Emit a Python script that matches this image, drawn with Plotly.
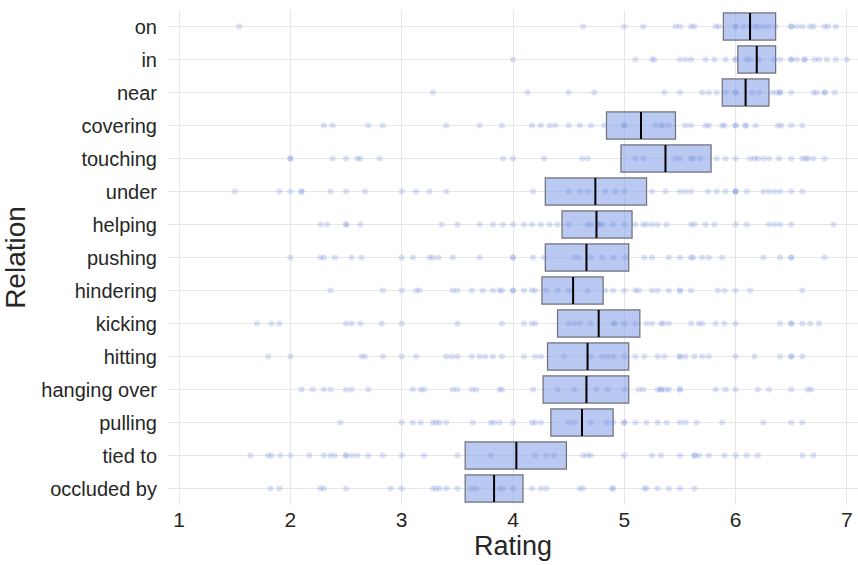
import plotly.graph_objects as go

relations = ["on", "in", "near", "covering", "touching", "under", "helping", "pushing",
             "hindering", "kicking", "hitting", "hanging over", "pulling", "tied to", "occluded by"]

box_low = [5.89, 6.02, 5.88, 4.84, 4.97, 4.29, 4.44, 4.29, 4.26, 4.40, 4.31, 4.27, 4.34, 3.57, 3.57]
box_high = [6.36, 6.36, 6.30, 5.46, 5.78, 5.20, 5.07, 5.04, 4.81, 5.14, 5.04, 5.04, 4.90, 4.48, 4.09]
box_mid = [6.13, 6.19, 6.09, 5.15, 5.37, 4.74, 4.75, 4.66, 4.54, 4.77, 4.67, 4.66, 4.62, 4.03, 3.83]

r_on = [1.54, 4.63, 5.0, 5.17, 5.46, 5.5, 5.6, 5.63, 5.82, 5.85, 6.0, 6.0, 6.07, 6.13, 6.18, 6.2, 6.25,
        6.3, 6.36, 6.5, 6.5, 6.55, 6.6, 6.67, 6.7, 6.8, 6.83, 6.9]
r_in = [4.0, 5.1, 5.25, 5.27, 5.5, 5.55, 5.6, 5.73, 5.81, 5.91, 6.0, 6.0, 6.1, 6.13, 6.21, 6.35, 6.4,
        6.5, 6.5, 6.55, 6.62, 6.62, 6.71, 6.75, 6.82, 6.9, 7.0]
r_near = [3.28, 4.13, 4.5, 4.73, 5.36, 5.5, 5.7, 5.76, 5.83, 5.91, 6.0, 6.0, 6.15, 6.21, 6.33, 6.37,
          6.4, 6.4, 6.5, 6.7, 6.73, 6.8, 6.8, 6.89]
r_covering = [2.3, 2.38, 2.7, 2.83, 3.4, 3.7, 3.9, 4.17, 4.25, 4.33, 4.38, 4.5, 4.6, 4.7, 4.82, 5.0,
              5.0, 5.28, 5.33, 5.35, 5.4, 5.55, 5.6, 5.73, 5.76, 5.88, 5.9, 6.0, 6.0, 6.09, 6.09,
              6.18, 6.38, 6.41, 6.5, 6.6]
r_touching = [2.0, 2.0, 2.38, 2.5, 2.6, 2.63, 2.8, 3.91, 4.0, 4.28, 4.62, 4.67, 5.1, 5.17, 5.46, 5.5,
              5.6, 5.62, 5.68, 5.83, 5.91, 6.0, 6.13, 6.17, 6.2, 6.25, 6.3, 6.39, 6.5, 6.6, 6.63,
              6.65, 6.7, 6.8]
r_under = [1.5, 1.9, 2.0, 2.1, 2.1, 2.36, 2.5, 2.67, 3.0, 3.13, 3.25, 3.4, 4.18, 4.5, 4.6, 4.67, 4.83,
           4.92, 5.0, 5.25, 5.37, 5.5, 5.55, 5.6, 5.75, 5.83, 5.91, 6.0, 6.0, 6.0, 6.1, 6.25, 6.3,
           6.35, 6.4, 6.5, 6.6]
r_helping = [2.27, 2.33, 2.5, 2.5, 2.63, 3.36, 3.5, 3.7, 3.82, 3.91, 4.0, 4.1, 4.17, 4.25, 4.33, 4.4,
             4.5, 4.67, 4.7, 4.77, 4.77, 4.8, 4.9, 5.0, 5.1, 5.17, 5.2, 5.25, 5.3, 5.38, 5.6, 5.63,
             5.73, 5.81, 6.0, 6.1, 6.3, 6.35, 6.4, 6.5, 6.88]
r_pushing = [2.0, 2.27, 2.3, 2.4, 2.55, 2.64, 3.0, 3.1, 3.25, 3.28, 3.33, 3.46, 3.7, 4.0, 4.0, 4.18,
             4.28, 4.55, 4.59, 4.7, 4.8, 4.9, 5.01, 5.18, 5.25, 5.4, 5.5, 5.6, 5.62, 5.7, 5.76, 5.88,
             6.25, 6.4, 6.5, 6.5, 6.8]
r_hindering = [2.36, 2.83, 3.0, 3.13, 3.16, 3.46, 3.5, 3.63, 3.73, 3.82, 3.88, 3.9, 4.0, 4.0, 4.1,
               4.17, 4.2, 4.3, 4.4, 4.5, 4.67, 4.83, 4.9, 5.0, 5.1, 5.13, 5.25, 5.3, 5.4, 5.5, 5.5,
               5.6, 5.84, 5.9, 6.0, 6.13, 6.6]
r_kicking = [1.7, 1.83, 1.9, 2.5, 2.55, 2.63, 2.82, 3.0, 3.5, 3.9, 4.1, 4.17, 4.2, 4.5, 4.55, 4.6,
             4.7, 4.91, 4.91, 5.0, 5.1, 5.2, 5.25, 5.33, 5.35, 5.4, 5.6, 5.67, 5.7, 5.82, 5.9, 6.0,
             6.4, 6.5, 6.5, 6.6, 6.67, 6.75]
r_hitting = [1.8, 2.0, 2.64, 2.67, 2.83, 3.0, 3.13, 3.4, 3.45, 3.5, 3.63, 3.7, 3.75, 3.82, 3.9, 4.1,
             4.2, 4.25, 4.46, 4.7, 4.8, 4.85, 4.9, 5.0, 5.1, 5.18, 5.3, 5.36, 5.5, 5.5, 5.55, 5.63,
             5.7, 5.76, 6.0, 6.17, 6.4, 6.5, 6.5, 6.6]
r_hanging = [2.1, 2.2, 2.3, 2.36, 2.5, 2.55, 2.7, 3.1, 3.17, 3.2, 3.46, 3.5, 3.63, 3.67, 3.88, 3.9,
             4.18, 4.4, 4.55, 4.75, 4.85, 5.0, 5.13, 5.17, 5.3, 5.33, 5.33, 5.37, 5.4, 5.5, 5.5, 5.82,
             5.91, 6.0, 6.2, 6.3, 6.5, 6.65, 6.68]
r_pulling = [2.45, 3.0, 3.1, 3.17, 3.28, 3.31, 3.34, 3.4, 3.64, 3.8, 3.83, 3.88, 4.0, 4.17, 4.2, 4.25,
             4.5, 4.55, 4.7, 4.84, 4.9, 5.0, 5.0, 5.1, 5.2, 5.3, 5.38, 5.5, 5.55, 5.65, 5.88, 6.25,
             6.5, 6.6]
r_tied = [1.64, 1.8, 1.83, 1.91, 2.0, 2.17, 2.3, 2.36, 2.4, 2.5, 2.5, 2.55, 2.6, 2.7, 2.83, 3.0, 3.2,
          3.5, 3.8, 4.2, 4.3, 4.37, 4.63, 4.67, 4.7, 5.0, 5.25, 5.33, 5.5, 5.63, 5.63, 5.67, 5.76,
          5.9, 6.0, 6.1, 6.2, 6.6, 6.7]
r_occluded = [1.82, 1.9, 2.27, 2.3, 2.5, 2.9, 3.0, 3.28, 3.31, 3.34, 3.4, 3.5, 3.63, 3.67, 3.88, 3.91,
              4.0, 4.17, 4.25, 4.3, 4.6, 4.63, 4.89, 4.9, 5.18, 5.2, 5.3, 5.4, 5.5, 5.63]

ratings = [r_on, r_in, r_near, r_covering, r_touching, r_under, r_helping, r_pushing, r_hindering,
           r_kicking, r_hitting, r_hanging, r_pulling, r_tied, r_occluded]

x_ticks = [1, 2, 3, 4, 5, 6, 7]

fig = go.Figure()

fig.add_trace(go.Bar(
    y=relations,
    x=[h - l for l, h in zip(box_low, box_high)],
    base=box_low,
    orientation="h",
    width=0.82,
    marker=dict(color="rgba(140,165,232,0.6)", line=dict(color="rgba(90,90,100,0.85)", width=1.2)),
    hoverinfo="skip",
    showlegend=False,
))

px, py = [], []
for rel, vals in zip(relations, ratings):
    px.extend(vals)
    py.extend([rel] * len(vals))

fig.add_trace(go.Scatter(
    x=px, y=py, mode="markers",
    marker=dict(size=6, color="rgba(110,140,225,0.25)", line=dict(width=0)),
    showlegend=False, hoverinfo="skip",
))

fig.add_trace(go.Scatter(
    x=box_mid, y=relations, mode="markers",
    marker=dict(symbol="line-ns", size=19.3, line=dict(color="black", width=2)),
    showlegend=False, hoverinfo="skip",
))

font_family = "Liberation Sans, Arial, sans-serif"
fig.update_layout(
    width=858, height=565,
    margin=dict(l=168, r=0, t=10, b=60),
    plot_bgcolor="white", paper_bgcolor="white",
    font=dict(family=font_family, color="#262626"),
    xaxis=dict(
        range=[0.9, 7.1], tickvals=x_ticks, ticktext=[str(v) for v in x_ticks],
        showgrid=True, gridcolor="#e6e6e6", gridwidth=1, zeroline=False,
        tickfont=dict(size=21, color="#262626"),
        title=dict(text="Rating", font=dict(size=27, color="#262626"), standoff=4),
        showline=False, ticks="",
    ),
    yaxis=dict(
        categoryorder="array", categoryarray=relations,
        range=[14.5, -0.5],
        showgrid=True, gridcolor="#e6e6e6", gridwidth=1, zeroline=False,
        tickfont=dict(size=20, color="#262626"),
        ticklabelstandoff=10,
        title=dict(text="Relation", font=dict(size=28, color="#262626"), standoff=14),
        showline=False, ticks="", ticklen=0,
    ),
)

fig.write_html("out.html")
